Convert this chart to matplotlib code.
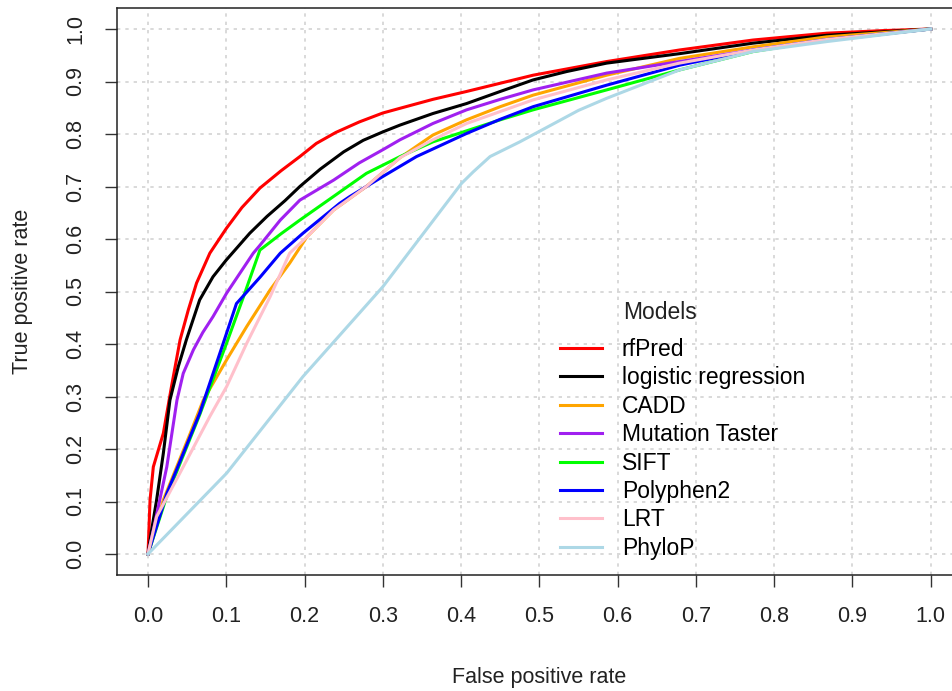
import matplotlib
matplotlib.use("Agg")
import matplotlib.pyplot as plt

plt.rcParams['font.family'] = ['Liberation Sans', 'DejaVu Sans']

models = ["rfPred", "logistic regression", "CADD", "Mutation Taster",
          "SIFT", "Polyphen2", "LRT", "PhyloP"]
colors = ["#FF0000", "#000000", "#FFA500", "#A020F0",
          "#00FF00", "#0000FF", "#FFC0CB", "#ADD8E6"]

rf_fpr = [0, 0.0026, 0.0068, 0.0196, 0.030, 0.041, 0.0515, 0.062, 0.079, 0.1, 0.12, 0.143, 0.17, 0.194, 0.215, 0.24, 0.27, 0.3, 0.322, 0.364, 0.407, 0.492, 0.586, 0.679, 0.773, 0.867, 0.94, 1.0]
rf_tpr = [0, 0.103, 0.166, 0.23, 0.319, 0.408, 0.465, 0.516, 0.573, 0.62, 0.66, 0.697, 0.73, 0.757, 0.782, 0.803, 0.823, 0.84, 0.849, 0.866, 0.881, 0.912, 0.938, 0.96, 0.979, 0.992, 0.997, 1.0]

lr_fpr = [0, 0.004, 0.011, 0.0196, 0.028, 0.0387, 0.049, 0.066, 0.083, 0.1, 0.13, 0.152, 0.175, 0.194, 0.22, 0.25, 0.275, 0.3, 0.322, 0.364, 0.407, 0.45, 0.492, 0.535, 0.586, 0.679, 0.773, 0.867, 1.0]
lr_tpr = [0, 0.04, 0.103, 0.192, 0.293, 0.357, 0.408, 0.484, 0.528, 0.56, 0.611, 0.643, 0.673, 0.70, 0.733, 0.766, 0.788, 0.804, 0.817, 0.839, 0.858, 0.881, 0.903, 0.919, 0.935, 0.953, 0.973, 0.988, 1.0]

cadd_fpr = [0, 0.0196, 0.054, 0.0706, 0.1005, 0.126, 0.156, 0.181, 0.203, 0.237, 0.279, 0.322, 0.364, 0.407, 0.45, 0.492, 0.586, 0.679, 0.773, 0.867, 1.0]
cadd_tpr = [0, 0.103, 0.23, 0.293, 0.37, 0.433, 0.503, 0.554, 0.604, 0.655, 0.70, 0.755, 0.798, 0.827, 0.852, 0.874, 0.912, 0.944, 0.966, 0.985, 1.0]

mt_fpr = [0, 0.006, 0.015, 0.024, 0.037, 0.045, 0.058, 0.07, 0.083, 0.1005, 0.1175, 0.1345, 0.143, 0.169, 0.194, 0.237, 0.27, 0.3, 0.322, 0.364, 0.407, 0.45, 0.492, 0.586, 0.679, 0.773, 0.867, 1.0]
mt_tpr = [0, 0.04, 0.103, 0.166, 0.293, 0.344, 0.389, 0.422, 0.452, 0.497, 0.535, 0.573, 0.588, 0.636, 0.674, 0.712, 0.745, 0.77, 0.789, 0.82, 0.846, 0.866, 0.884, 0.916, 0.938, 0.96, 0.978, 1.0]

sift_fpr = [0, 0.024, 0.066, 0.1, 0.122, 0.143, 0.17, 0.194, 0.237, 0.279, 0.322, 0.364, 0.407, 0.45, 0.492, 0.586, 0.679, 0.773, 0.867, 1.0]
sift_tpr = [0, 0.11, 0.265, 0.40, 0.49, 0.579, 0.61, 0.636, 0.681, 0.725, 0.757, 0.785, 0.806, 0.827, 0.846, 0.884, 0.922, 0.957, 0.979, 1.0]

pp2_fpr = [0, 0.024, 0.066, 0.096, 0.113, 0.143, 0.169, 0.198, 0.245, 0.258, 0.3, 0.343, 0.407, 0.45, 0.492, 0.586, 0.679, 0.773, 0.867, 1.0]
pp2_tpr = [0, 0.115, 0.268, 0.401, 0.477, 0.527, 0.573, 0.611, 0.668, 0.681, 0.719, 0.757, 0.801, 0.828, 0.852, 0.893, 0.931, 0.96, 0.98, 1.0]

lrt_fpr = [0, 0.011, 0.045, 0.079, 0.1005, 0.126, 0.156, 0.181, 0.203, 0.237, 0.279, 0.322, 0.364, 0.407, 0.492, 0.586, 0.679, 0.773, 0.867, 1.0]
lrt_tpr = [0, 0.071, 0.166, 0.262, 0.319, 0.401, 0.49, 0.573, 0.604, 0.655, 0.70, 0.755, 0.789, 0.82, 0.865, 0.903, 0.935, 0.96, 0.98, 1.0]

phylo_fpr = [0, 0.1005, 0.198, 0.3, 0.373, 0.4006, 0.4156, 0.437, 0.475, 0.5, 0.55, 0.586, 0.679, 0.773, 0.867, 1.0]
phylo_tpr = [0, 0.154, 0.338, 0.509, 0.652, 0.706, 0.728, 0.757, 0.785, 0.805, 0.845, 0.868, 0.922, 0.957, 0.976, 1.0]

curves = [(rf_fpr, rf_tpr), (lr_fpr, lr_tpr), (cadd_fpr, cadd_tpr), (mt_fpr, mt_tpr),
          (sift_fpr, sift_tpr), (pp2_fpr, pp2_tpr), (lrt_fpr, lrt_tpr), (phylo_fpr, phylo_tpr)]

ticks = [round(0.1 * i, 1) for i in range(11)]
tick_labels = [f"{t:.1f}" for t in ticks]

W, H = 953, 691
fig = plt.figure(figsize=(W / 100, H / 100), dpi=100)
left_px, right_px, top_px, bot_px = 116.7, 962.0, 8.0, 575.0
ax = fig.add_axes([left_px / W, 1 - bot_px / H, (right_px - left_px) / W, (bot_px - top_px) / H])

ax.set_xlim(-0.04, 1.04)
ax.set_ylim(-0.04, 1.04)

for t in ticks:
    ax.axvline(t, color="#D3D3D3", linestyle=(0, (2, 3)), linewidth=1.2, zorder=0)
    ax.axhline(t, color="#D3D3D3", linestyle=(0, (2, 3)), linewidth=1.2, zorder=0)

handles = []
for (fx, ty), c, m in zip(curves, colors, models):
    h, = ax.plot(fx, ty, color=c, linewidth=2.2, label=m, solid_joinstyle="round")
    handles.append(h)

ax.set_xticks(ticks)
ax.set_xticklabels(tick_labels)
ax.set_yticks(ticks)
ax.set_yticklabels(tick_labels, rotation=90, va="center")
ax.tick_params(axis="both", direction="out", length=8.6, width=1.0, colors="#333333",
               labelcolor="#222222", labelsize=15.5)
ax.tick_params(axis="x", pad=14)
ax.tick_params(axis="y", pad=13.5)
for s in ax.spines.values():
    s.set_linewidth(1.1)
    s.set_color("#222222")

ax.set_xlabel("False positive rate", fontsize=15.5, color="#222222")
ax.set_ylabel("True positive rate", fontsize=15.5, color="#222222")
ax.xaxis.label.set_va("center")
ax.yaxis.label.set_va("center")
ax.xaxis.set_label_coords(0.5, (bot_px - 678) / (bot_px - top_px))
ax.yaxis.set_label_coords((22 - left_px) / (right_px - left_px), 0.5)

leg_x = (560 - left_px) / (right_px - left_px)
leg_y = 1 - (338 - top_px) / (bot_px - top_px)
ax.legend(handles=handles, loc="upper left", bbox_to_anchor=(leg_x, leg_y),
          frameon=False, fontsize=16.5, handlelength=1.83, handletextpad=0.87,
          labelspacing=0.235, borderpad=0, borderaxespad=0)
ax.text((660 - left_px) / (right_px - left_px), 1 - (313 - top_px) / (bot_px - top_px),
        "Models", transform=ax.transAxes, fontsize=16.5, ha="center", va="center",
        color="#222222")

fig.savefig("out.png", dpi=100)
